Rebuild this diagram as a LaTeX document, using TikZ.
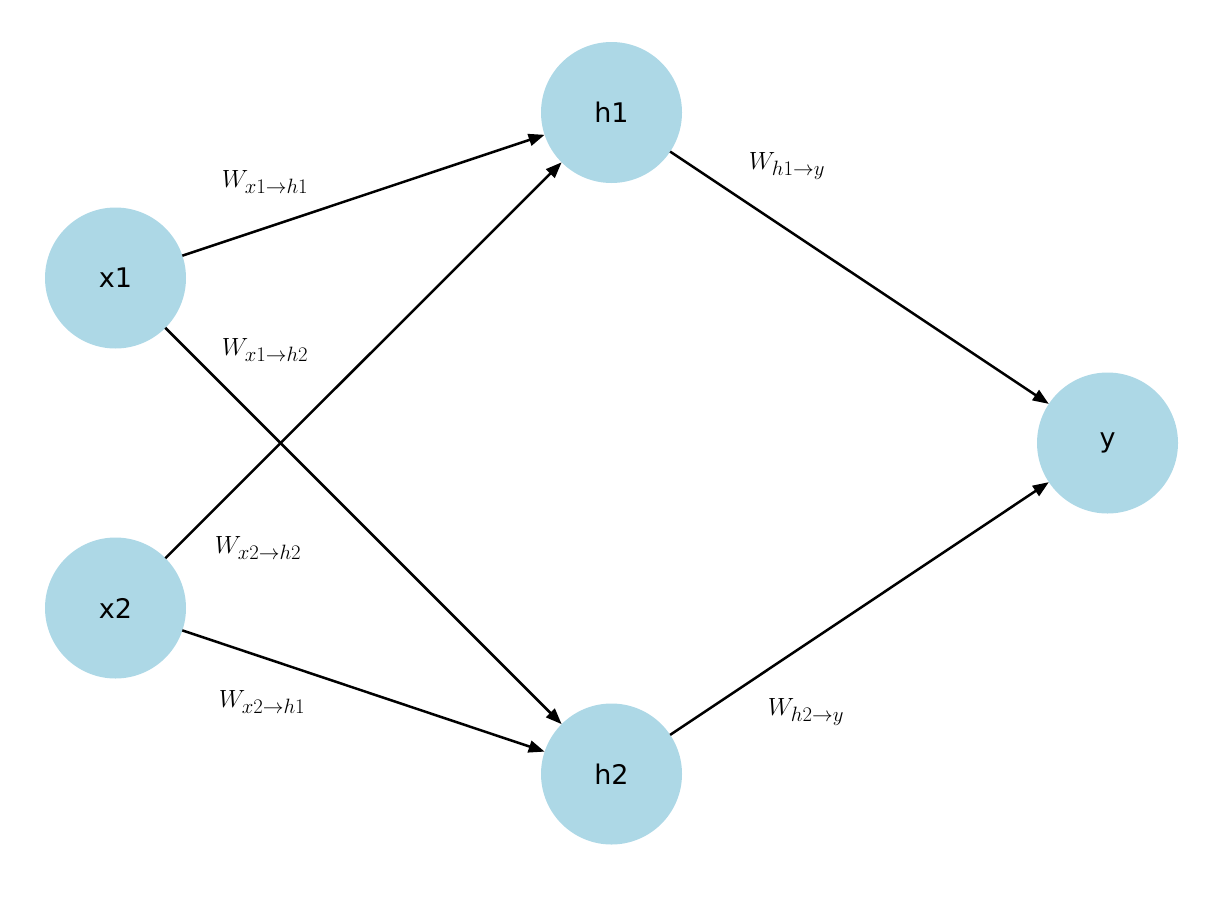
\documentclass[tikz,border=0pt]{standalone}
\usepackage{fontspec}
\setsansfont{DejaVu Sans}
\usetikzlibrary{arrows.meta}
\definecolor{lightblue}{HTML}{ADD8E6}
\begin{document}
\begin{tikzpicture}[x=1pt,y=-1pt,
  neuron/.style={circle,fill=lightblue,minimum size=141pt,inner sep=0pt,outer sep=0pt,
    font=\sffamily\fontsize{27}{32}\selectfont},
  conn/.style={line width=2.5pt,-{Triangle[length=16pt,width=12pt]}},
  wlabel/.style={font=\fontsize{31}{36}\selectfont,inner sep=0pt}]
\useasboundingbox (0,0) rectangle (1214,899);
\clip (0,43) rectangle (1214,844);
\node[neuron] (x1) at (115.5,278) {x1};
\node[neuron] (x2) at (115.5,608) {x2};
\node[neuron] (h1) at (611.5,112.5) {h1};
\node[neuron] (h2) at (611.5,774) {h2};
\node[neuron] (y) at (1107.5,443) {y};
\draw[conn] (x1) -- (h1);
\draw[conn] (x1) -- (h2);
\draw[conn] (x2) -- (h1);
\draw[conn] (x2) -- (h2);
\draw[conn] (h1) -- (y);
\draw[conn] (h2) -- (y);
\node[wlabel] (l1) at (265,182) {$W_{x1\rightarrow h1}$};
\node[wlabel] (l2) at (265,350) {$W_{x1\rightarrow h2}$};
\node[wlabel] (l3) at (258,548) {$W_{x2\rightarrow h2}$};
\node[wlabel] (l4) at (262,702) {$W_{x2\rightarrow h1}$};
\node[wlabel] (l5) at (787,166) {$W_{h1\rightarrow y}$};
\node[wlabel] (l6) at (806,712) {$W_{h2\rightarrow y}$};
\end{tikzpicture}
\end{document}
